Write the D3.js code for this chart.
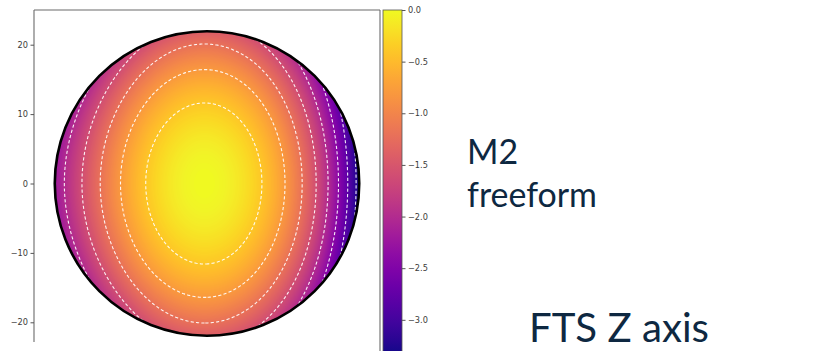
<!DOCTYPE html>
<html>
<head>
<meta charset="utf-8">
<script src="https://cdn.jsdelivr.net/npm/d3@7"></script>
<style>
  html, body { margin: 0; padding: 0; background: #ffffff; }
  svg { display: block; }
</style>
</head>
<body>
<svg id="chart" width="821" height="351"></svg>
<script>
// Sag map of the M2 freeform surface over its circular clear aperture (mm)
const apertureRadius = 22;
const axisLimits = [-25, 25];
const yTickValues = [20, 10, 0, -10, -20];
const colorbarLimits = [-3.36, 0];
const colorbarTicks = [0, -0.5, -1, -1.5, -2, -2.5, -3];
const contourLevels = [-3.2, -2.8, -2.4, -2.0, -1.6, -1.2, -0.8, -0.4];

// Polynomial sag terms about the vertex (vertexX, 0): coef * u^powX * y^powY
const vertexX = -0.37;
const termPowX = [2, 3, 5, 0];
const termPowY = [0, 0, 0, 2];
const termCoef = [-0.00568, -9.0e-6, -7.45e-8, -0.00297];

const captionLines = ["M2", "freeform"];
const axisCaption = "FTS Z axis";

function sag(x, y) {
  const u = x - vertexX;
  let z = 0;
  for (let k = 0; k < termCoef.length; k++) {
    z += termCoef[k] * Math.pow(u, termPowX[k]) * Math.pow(y, termPowY[k]);
  }
  return z;
}

const svg = d3.select("#chart");

// Plot frame
const plotLeft = 34, plotRight = 380, plotTop = 10, plotBottom = 357;
const xScale = d3.scaleLinear().domain(axisLimits).range([plotLeft, plotRight]);
const yScale = d3.scaleLinear().domain(axisLimits).range([plotBottom, plotTop]);
const colorScale = d3.scaleSequential(d3.interpolatePlasma).domain(colorbarLimits);

const defs = svg.append("defs");
defs.append("clipPath").attr("id", "aperture")
  .append("circle")
  .attr("cx", xScale(0)).attr("cy", yScale(0))
  .attr("r", xScale(apertureRadius) - xScale(0));

// Surface raster
const W = plotRight - plotLeft, H = plotBottom - plotTop, ss = 2;
const canvas = document.createElement("canvas");
canvas.width = W * ss; canvas.height = H * ss;
const ctx = canvas.getContext("2d");
const img = ctx.createImageData(canvas.width, canvas.height);
const rLim = (apertureRadius + 0.4) * (apertureRadius + 0.4);
for (let j = 0; j < canvas.height; j++) {
  const y = yScale.invert(plotTop + (j + 0.5) / ss);
  for (let i = 0; i < canvas.width; i++) {
    const x = xScale.invert(plotLeft + (i + 0.5) / ss);
    if (x * x + y * y > rLim) continue;
    const c = d3.rgb(colorScale(Math.max(colorbarLimits[0], sag(x, y))));
    const o = (j * canvas.width + i) * 4;
    img.data[o] = c.r; img.data[o + 1] = c.g; img.data[o + 2] = c.b; img.data[o + 3] = 255;
  }
}
ctx.putImageData(img, 0, 0);

const surface = svg.append("g").attr("clip-path", "url(#aperture)");
surface.append("image")
  .attr("x", plotLeft).attr("y", plotTop)
  .attr("width", W).attr("height", H)
  .attr("preserveAspectRatio", "none")
  .attr("href", canvas.toDataURL());

// Dashed contour lines
const step = 0.1;
const n = Math.round((axisLimits[1] - axisLimits[0]) / step) + 1;
const grid = new Float64Array(n * n);
for (let j = 0; j < n; j++) {
  const y = axisLimits[1] - j * step;
  for (let i = 0; i < n; i++) {
    grid[j * n + i] = sag(axisLimits[0] + i * step, y);
  }
}
const contours = d3.contours().size([n, n]).thresholds(contourLevels)(grid);
const toPlot = d3.geoTransform({
  point(cx, cy) {
    this.stream.point(
      xScale(axisLimits[0] + (cx - 0.5) * step),
      yScale(axisLimits[1] - (cy - 0.5) * step));
  }
});
const contourPath = d3.geoPath(toPlot);
surface.selectAll("path.contour")
  .data(contours)
  .join("path")
  .attr("class", "contour")
  .attr("d", contourPath)
  .attr("fill", "none")
  .attr("stroke", "#ffffff")
  .attr("stroke-opacity", 0.92)
  .attr("stroke-width", 1.1)
  .attr("stroke-dasharray", "3.2,2.2");

// Aperture outline
svg.append("circle")
  .attr("cx", xScale(0)).attr("cy", yScale(0))
  .attr("r", xScale(apertureRadius) - xScale(0))
  .attr("fill", "none")
  .attr("stroke", "#000000")
  .attr("stroke-width", 2.6);

// Spines
const spine = svg.append("g").attr("stroke", "#6b6b6b").attr("stroke-width", 1.1).attr("fill", "none");
spine.append("line").attr("x1", plotLeft).attr("x2", plotLeft).attr("y1", plotTop).attr("y2", 342);
spine.append("line").attr("x1", plotLeft).attr("x2", plotRight).attr("y1", plotTop).attr("y2", plotTop);
spine.append("line").attr("x1", plotRight).attr("x2", plotRight).attr("y1", plotTop).attr("y2", plotBottom);

// Y axis
const yAxis = svg.append("g")
  .attr("transform", `translate(${plotLeft},0)`)
  .call(d3.axisLeft(yScale).tickValues(yTickValues).tickSize(3.5).tickPadding(2.5).tickFormat(d3.format("d")));
yAxis.select(".domain").remove();
yAxis.selectAll(".tick line").attr("stroke", "#555555");
yAxis.selectAll(".tick text")
  .attr("font-family", "DejaVu Sans")
  .attr("font-size", 8.2)
  .attr("fill", "#3a3a3a");

// Colorbar
const cbLeft = 383, cbWidth = 19;
const cbScale = d3.scaleLinear().domain(colorbarLimits).range([plotBottom, plotTop]);
const grad = defs.append("linearGradient").attr("id", "cbgrad")
  .attr("x1", 0).attr("y1", 1).attr("x2", 0).attr("y2", 0);
d3.range(0, 1.0001, 0.05).forEach(t => {
  grad.append("stop").attr("offset", t).attr("stop-color", d3.interpolatePlasma(t));
});
svg.append("rect")
  .attr("x", cbLeft).attr("y", plotTop)
  .attr("width", cbWidth).attr("height", plotBottom - plotTop)
  .attr("fill", "url(#cbgrad)")
  .attr("stroke", "#555555").attr("stroke-width", 0.8);
const cbAxis = svg.append("g")
  .attr("transform", `translate(${cbLeft + cbWidth},0)`)
  .call(d3.axisRight(cbScale).tickValues(colorbarTicks).tickSize(3.5).tickPadding(2.5).tickFormat(d3.format(".1f")));
cbAxis.select(".domain").remove();
cbAxis.selectAll(".tick line").attr("stroke", "#555555");
cbAxis.selectAll(".tick text")
  .attr("font-family", "DejaVu Sans")
  .attr("font-size", 8.2)
  .attr("fill", "#3a3a3a");

// Slide captions
const capColor = "#0e2841";
function fitText(sel, targetWidth) {
  const w = sel.node().getComputedTextLength();
  const fs = parseFloat(sel.attr("font-size"));
  sel.attr("font-size", fs * targetWidth / w);
}
const cap1 = svg.append("text").attr("x", 467).attr("y", 164)
  .attr("font-family", "Lato").attr("font-size", 30).attr("fill", capColor).text(captionLines[0]);
const cap2 = svg.append("text").attr("x", 467).attr("y", 207)
  .attr("font-family", "Lato").attr("font-size", 30).attr("fill", capColor).text(captionLines[1]);
fitText(cap2, 130);
cap1.attr("font-size", cap2.attr("font-size"));
const cap3 = svg.append("text").attr("x", 529).attr("y", 342)
  .attr("font-family", "Lato").attr("font-size", 40).attr("fill", capColor).text(axisCaption);
fitText(cap3, 180);
</script>
</body>
</html>
